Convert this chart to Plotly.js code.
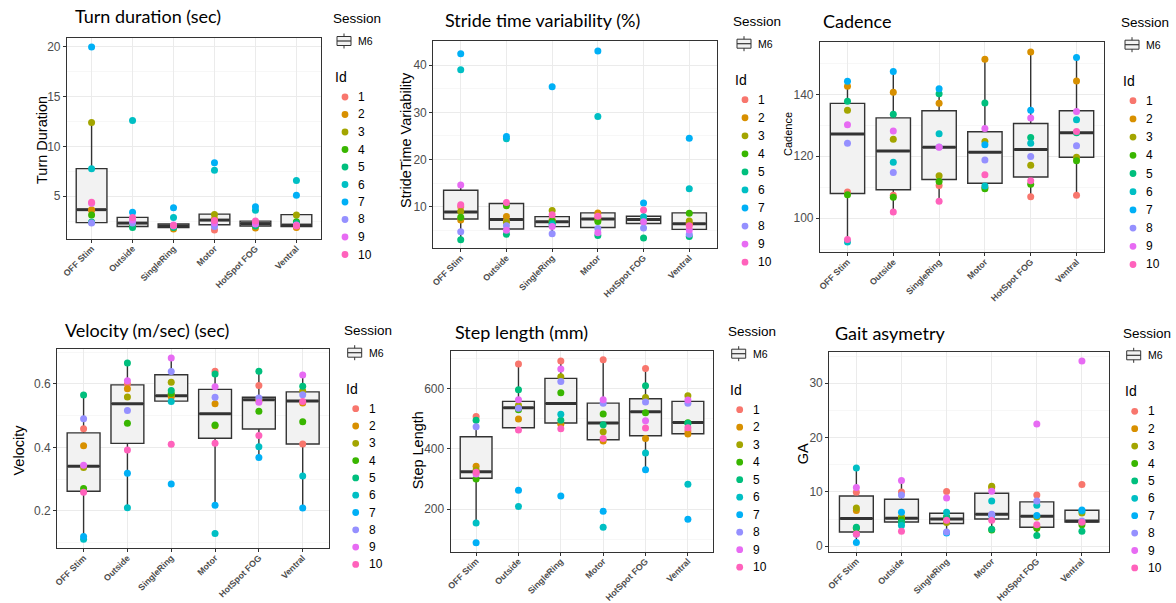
<!DOCTYPE html>
<html><head><meta charset="utf-8">
<script src="https://cdn.plot.ly/plotly-3.0.1.min.js"></script>
<style>html,body{margin:0;padding:0;background:#fff}#chart{width:1176px;height:603px}</style>
</head><body><div id="chart"></div>
<script>
// ---------------- DATA ----------------
const categories = ['OFF Stim', 'Outside', 'SingleRing', 'Motor', 'HotSpot FOG', 'Ventral'];
const ids = ['1', '2', '3', '4', '5', '6', '7', '8', '9', '10'];
const idColors = ['#F8766D', '#D89000', '#A3A500', '#39B600', '#00BF7D', '#00BFC4', '#00B0F6', '#9590FF', '#E76BF3', '#FF62BC'];
const sessionName = 'M6';
const panelTitles = ['Turn duration (sec)', 'Stride time variability (%)', 'Cadence', 'Velocity (m/sec) (sec)', 'Step length (mm)', 'Gait asymetry'];
const yAxisTitles = ['Turn Duration', 'StrideTime Variability', 'Cadence', 'Velocity', 'Step Length', 'GA'];

// rows = Id 1..10, columns = categories
const turnDuration = [
  [3.6, 2.2, 2.0, 1.6, 2.3, 1.9],
  [3.65, 2.0, 1.7, 2.7, 1.8, 1.85],
  [12.4, 2.5, 1.9, 3.17, 2.1, 3.1],
  [3.1, 2.1, 1.95, 2.4, 2.2, 2.44],
  [2.4, 1.85, 1.85, 2.2, 2.0, 2.3],
  [7.77, 12.6, 2.85, 7.6, 3.6, 6.57],
  [20.0, 3.4, 3.83, 8.37, 3.95, 5.1],
  [2.3, 2.3, 2.0, 1.95, 2.25, 2.05],
  [4.3, 2.6, 2.1, 2.3, 2.2, 2.1],
  [4.4, 2.85, 2.05, 2.57, 2.5, 2.0]
];
const turnQ1 = [2.35, 1.95, 1.85, 2.13, 2.0, 1.95];
const turnMedian = [3.65, 2.3, 2.0, 2.6, 2.25, 2.1];
const turnQ3 = [7.77, 2.87, 2.2, 3.2, 2.5, 3.15];
const turnLow = [2.3, 1.85, 1.7, 1.6, 1.8, 1.85];
const turnHigh = [12.4, 3.4, 2.2, 3.2, 2.5, 3.15];

const strideVar = [
  [10.0, 7.0, 7.3, 7.8, 7.3, 6.5],
  [7.2, 7.96, 6.9, 8.7, 7.0, 6.3],
  [9.0, 6.7, 9.2, 7.2, 7.5, 7.0],
  [7.8, 10.2, 7.0, 6.9, 7.1, 8.6],
  [3.0, 4.2, 6.5, 3.9, 3.4, 3.7],
  [39.0, 24.4, 6.2, 29.1, 7.9, 13.8],
  [42.4, 24.9, 35.4, 43.0, 10.8, 24.5],
  [4.7, 6.0, 4.3, 5.4, 5.5, 4.2],
  [14.6, 5.0, 5.8, 4.5, 6.8, 5.1],
  [10.4, 10.9, 8.3, 8.0, 9.3, 6.0]
];
const strideQ1 = [7.4, 5.3, 5.8, 5.6, 6.45, 5.2];
const strideMedian = [8.9, 7.3, 6.8, 7.4, 7.3, 6.4];
const strideQ3 = [13.5, 10.7, 7.9, 8.7, 8.0, 8.7];
const strideLow = [3.0, 4.2, 4.3, 3.9, 5.5, 3.7];
const strideHigh = [14.6, 10.9, 9.2, 8.7, 9.3, 8.7];

const cadence = [
  [108.5, 107.4, 110.6, 110.0, 106.9, 107.4],
  [142.6, 140.7, 137.1, 151.3, 153.7, 144.3],
  [134.9, 125.5, 113.7, 124.8, 117.1, 119.7],
  [107.6, 106.8, 111.9, 109.5, 111.0, 118.6],
  [137.8, 133.6, 140.2, 137.2, 126.1, 127.6],
  [92.3, 118.1, 127.3, 110.4, 124.2, 131.8],
  [144.2, 147.4, 141.8, 123.7, 134.9, 151.9],
  [124.2, 114.8, 123.0, 118.8, 119.9, 123.4],
  [130.2, 128.2, 122.9, 129.0, 132.4, 134.5],
  [93.1, 102.0, 105.5, 114.0, 112.1, 128.0]
];
const cadenceQ1 = [108.0, 109.2, 112.5, 111.3, 113.3, 119.7];
const cadenceMedian = [127.2, 121.7, 122.9, 121.3, 122.2, 127.6];
const cadenceQ3 = [137.1, 132.4, 134.7, 127.9, 130.6, 134.7];
const cadenceLow = [92.3, 102.0, 105.5, 109.5, 106.9, 107.4];
const cadenceHigh = [144.2, 147.4, 141.8, 151.3, 153.7, 151.9];

const velocity = [
  [0.459, 0.600, 0.565, 0.640, 0.595, 0.411],
  [0.405, 0.585, 0.560, 0.538, 0.550, 0.540],
  [0.337, 0.559, 0.605, 0.468, 0.548, 0.578],
  [0.271, 0.476, 0.570, 0.471, 0.514, 0.481],
  [0.565, 0.666, 0.579, 0.631, 0.640, 0.593],
  [0.111, 0.210, 0.545, 0.129, 0.402, 0.310],
  [0.120, 0.319, 0.285, 0.218, 0.368, 0.209],
  [0.490, 0.516, 0.639, 0.558, 0.556, 0.566],
  [0.344, 0.610, 0.682, 0.591, 0.542, 0.628],
  [0.259, 0.392, 0.410, 0.413, 0.438, 0.545]
];
const velocityQ1 = [0.262, 0.413, 0.546, 0.429, 0.458, 0.411];
const velocityMedian = [0.341, 0.538, 0.563, 0.506, 0.550, 0.546];
const velocityQ3 = [0.446, 0.597, 0.629, 0.583, 0.558, 0.575];
const velocityLow = [0.111, 0.210, 0.545, 0.218, 0.368, 0.209];
const velocityHigh = [0.565, 0.666, 0.682, 0.640, 0.640, 0.628];

const stepLength = [
  [508, 681.6, 691.5, 696, 667, 459.5],
  [342.5, 499, 482, 426, 435, 449.6],
  [330, 545, 639.5, 457, 571, 576.5],
  [300, 530, 586.5, 516, 520, 487],
  [495, 596.4, 495, 480, 609.7, 485],
  [154, 208.6, 515, 140, 386.6, 283],
  [89, 263, 244, 193, 331, 167],
  [474, 535, 624, 552, 555.6, 552],
  [317, 563, 665, 563, 493.7, 562],
  [323, 462.8, 467, 435, 469.5, 470]
];
const stepQ1 = [302.7, 470.5, 486, 430.7, 444, 450.6];
const stepMedian = [324.6, 536.8, 551, 486, 523.5, 488];
const stepQ3 = [440.6, 558, 634, 552, 566.6, 558];
const stepLow = [154, 462.8, 467, 426, 331, 449.6];
const stepHigh = [508, 681.6, 691.5, 696, 667, 576.5];

const gaitAsym = [
  [9.94, 10.0, 10.06, 5.8, 9.45, 11.35],
  [6.6, 5.2, 4.9, 10.8, 3.5, 4.4],
  [7.05, 5.4, 4.35, 11.05, 5.4, 6.13],
  [3.3, 4.84, 5.45, 3.0, 3.3, 3.95],
  [3.5, 4.4, 5.3, 3.13, 1.96, 2.76],
  [14.4, 3.8, 6.26, 8.34, 7.55, 6.5],
  [0.67, 6.26, 2.45, 5.65, 5.64, 6.68],
  [2.2, 9.45, 2.63, 5.9, 8.34, 4.66],
  [10.8, 12.1, 8.9, 10.1, 22.5, 34.1],
  [2.27, 2.76, 4.8, 4.8, 3.98, 4.4]
];
const gaQ1 = [2.63, 4.47, 4.2, 5.03, 3.5, 4.47];
const gaMedian = [5.1, 5.15, 5.03, 5.9, 5.52, 4.66];
const gaQ3 = [9.26, 8.65, 6.07, 9.76, 8.16, 6.63];
const gaLow = [0.67, 2.76, 2.45, 3.0, 1.96, 2.76];
const gaHigh = [14.4, 12.1, 6.26, 11.05, 9.45, 6.68];

// ---------------- LAYOUT CONFIG ----------------
const W = 1176, H = 603;
const panels = [
  {values: turnDuration, q1: turnQ1, med: turnMedian, q3: turnQ3, lo: turnLow, hi: turnHigh,
   px: [67, 321], py: [38, 239], range: [0.7, 20.9], dtick: 5, minor: 2.5,
   titleAt: [73, 16], ytAt: [42, 140], ytSize: 14.5, leg: [332, 19, 17.5]},
  {values: strideVar, q1: strideQ1, med: strideMedian, q3: strideQ3, lo: strideLow, hi: strideHigh,
   px: [433.3, 716.7], py: [41, 248.3], range: [1.2, 45.1], dtick: 10, minor: 5,
   titleAt: [443, 20], ytAt: [406, 140], ytSize: 14.5, leg: [732, 21.7, 18.05]},
  {values: cadence, q1: cadenceQ1, med: cadenceMedian, q3: cadenceQ3, lo: cadenceLow, hi: cadenceHigh,
   px: [820, 1104], py: [41.7, 252.3], range: [89, 157], dtick: 20, minor: 10,
   titleAt: [820.7, 20.7], ytAt: [788, 134], ytSize: 11, leg: [1120, 22.7, 18.2]},
  {values: velocity, q1: velocityQ1, med: velocityMedian, q3: velocityQ3, lo: velocityLow, hi: velocityHigh,
   px: [57.3, 329], py: [349, 548.3], range: [0.0825, 0.71], dtick: 0.2, minor: 0.1,
   titleAt: [63.3, 330], ytAt: [18.5, 450], ytSize: 14.5, leg: [342.7, 330.7, 17.3]},
  {values: stepLength, q1: stepQ1, med: stepMedian, q3: stepQ3, lo: stepLow, hi: stepHigh,
   px: [450.7, 713.3], py: [350.7, 551.7], range: [59, 726], dtick: 200, minor: 100,
   titleAt: [453.3, 331.7], ytAt: [418.3, 450], ytSize: 14.5, leg: [726.7, 331.7, 17.5]},
  {values: gaitAsym, q1: gaQ1, med: gaMedian, q3: gaQ3, lo: gaLow, hi: gaHigh,
   px: [829.3, 1109], py: [351.7, 551.7], range: [-1.0, 35.8], dtick: 10, minor: 5,
   titleAt: [833.3, 332.7], ytAt: [803.3, 454], ytSize: 14.5, leg: [1121.7, 333.3, 17.4]}
];

const FONT = 'Liberation Sans, Arial, sans-serif';
const fx = p => p / W;
const fy = p => 1 - p / H;

const traces = [];
const layout = {
  width: W, height: H, margin: {l: 0, r: 0, t: 0, b: 0},
  paper_bgcolor: '#ffffff', plot_bgcolor: '#ffffff',
  showlegend: false, boxgap: 0.25, boxgroupgap: 0,
  font: {family: FONT, color: '#000'},
  annotations: [], shapes: []
};

panels.forEach((p, i) => {
  const n = i === 0 ? '' : String(i + 1);
  const xa = 'x' + n, ya = 'y' + n;
  const plotW = p.px[1] - p.px[0];
  const boxPx = plotW / 6.2 * 0.75;

  layout['xaxis' + n] = {
    domain: [fx(p.px[0]), fx(p.px[1])], anchor: ya, type: 'category',
    categoryorder: 'array', categoryarray: categories,
    range: [-0.6, 5.6], showgrid: true, gridcolor: '#EBEBEB', gridwidth: 1,
    showline: true, mirror: true, linecolor: '#333333', linewidth: 1.1,
    ticks: 'outside', ticklen: 3, tickcolor: '#333333', tickwidth: 1, tickangle: -45,
    ticklabelstandoff: -3,
    tickfont: {family: FONT, size: 8.8, color: '#4D4D4D', weight: 'bold'},
    zeroline: false, fixedrange: true
  };
  layout['yaxis' + n] = {
    domain: [fy(p.py[1]), fy(p.py[0])], anchor: xa, range: p.range,
    tick0: 0, dtick: p.dtick, showgrid: true, gridcolor: '#EBEBEB', gridwidth: 1,
    minor: {tick0: 0, dtick: p.minor, showgrid: true, gridcolor: '#F4F4F4', gridwidth: 0.7, ticks: ''},
    showline: true, mirror: true, linecolor: '#333333', linewidth: 1.1,
    ticks: 'outside', ticklen: 3, tickcolor: '#333333', tickwidth: 1,
    tickfont: {family: FONT, size: 12, color: '#4D4D4D'},
    zeroline: false, fixedrange: true
  };

  traces.push({
    type: 'box', x: categories, q1: p.q1, median: p.med, q3: p.q3,
    lowerfence: p.lo, upperfence: p.hi, xaxis: xa, yaxis: ya,
    name: sessionName, boxpoints: false, whiskerwidth: 0,
    fillcolor: '#F2F2F2', line: {color: '#333333', width: 1.4},
    showlegend: false, hoverinfo: 'skip'
  });
  // thick median bar (line-ew symbol length = 1.4 * size)
  traces.push({
    type: 'scatter', mode: 'markers', x: categories, y: p.med, xaxis: xa, yaxis: ya,
    marker: {symbol: 'line-ew', size: boxPx / 1.4 - 1, color: '#333333', line: {color: '#333333', width: 3}},
    showlegend: false, hoverinfo: 'skip'
  });
  ids.forEach((id, j) => {
    traces.push({
      type: 'scatter', mode: 'markers', x: categories, y: p.values[j], xaxis: xa, yaxis: ya,
      name: id, marker: {color: idColors[j], size: 7, line: {width: 0}},
      showlegend: false
    });
  });

  // panel title
  layout.annotations.push({
    text: panelTitles[i], xref: 'paper', yref: 'paper', x: fx(p.titleAt[0]), y: fy(p.titleAt[1]),
    xanchor: 'left', yanchor: 'middle', showarrow: false,
    font: {family: 'Lato, Open Sans, sans-serif', size: 18, color: '#000'}
  });
  // y-axis title
  layout.annotations.push({
    text: yAxisTitles[i], xref: 'paper', yref: 'paper', x: fx(p.ytAt[0]), y: fy(p.ytAt[1]),
    xanchor: 'center', yanchor: 'middle', showarrow: false, textangle: -90,
    font: {family: FONT, size: p.ytSize, color: '#000'}
  });

  // legend: Session
  const [lx, ly, sp] = p.leg;
  layout.annotations.push({
    text: 'Session', xref: 'paper', yref: 'paper', x: fx(lx - 1), y: fy(ly),
    xanchor: 'left', yanchor: 'middle', showarrow: false,
    font: {family: FONT, size: 13.5, color: '#000'}
  });
  const icx = lx + 12, icy = ly + 22;
  layout.shapes.push({type: 'rect', xref: 'paper', yref: 'paper',
    x0: fx(icx - 7), x1: fx(icx + 7), y0: fy(icy + 4.5), y1: fy(icy - 4.5),
    fillcolor: '#F2F2F2', line: {color: '#333333', width: 1}});
  layout.shapes.push({type: 'line', xref: 'paper', yref: 'paper',
    x0: fx(icx - 7), x1: fx(icx + 7), y0: fy(icy), y1: fy(icy), line: {color: '#333333', width: 1.2}});
  layout.shapes.push({type: 'line', xref: 'paper', yref: 'paper',
    x0: fx(icx), x1: fx(icx), y0: fy(icy - 7.5), y1: fy(icy - 4.5), line: {color: '#333333', width: 1}});
  layout.shapes.push({type: 'line', xref: 'paper', yref: 'paper',
    x0: fx(icx), x1: fx(icx), y0: fy(icy + 4.5), y1: fy(icy + 7.5), line: {color: '#333333', width: 1}});
  layout.annotations.push({
    text: sessionName, xref: 'paper', yref: 'paper', x: fx(lx + 24), y: fy(icy),
    xanchor: 'left', yanchor: 'middle', showarrow: false,
    font: {family: FONT, size: 10.5, color: '#000'}
  });
  // legend: Id
  layout.annotations.push({
    text: 'Id', xref: 'paper', yref: 'paper', x: fx(lx + 1), y: fy(ly + 58),
    xanchor: 'left', yanchor: 'middle', showarrow: false,
    font: {family: FONT, size: 14, color: '#000'}
  });
  ids.forEach((id, j) => {
    const cy = ly + 78 + j * sp;
    const cx = lx + 13;
    layout.shapes.push({type: 'circle', xref: 'paper', yref: 'paper',
      x0: fx(cx - 3.4), x1: fx(cx + 3.4), y0: fy(cy + 3.4), y1: fy(cy - 3.4),
      fillcolor: idColors[j], line: {width: 0}});
    layout.annotations.push({
      text: id, xref: 'paper', yref: 'paper', x: fx(lx + 24), y: fy(cy),
      xanchor: 'left', yanchor: 'middle', showarrow: false,
      font: {family: FONT, size: 12, color: '#000'}
    });
  });
});

Plotly.newPlot('chart', traces, layout, {staticPlot: true, displayModeBar: false});
</script>
</body></html>
